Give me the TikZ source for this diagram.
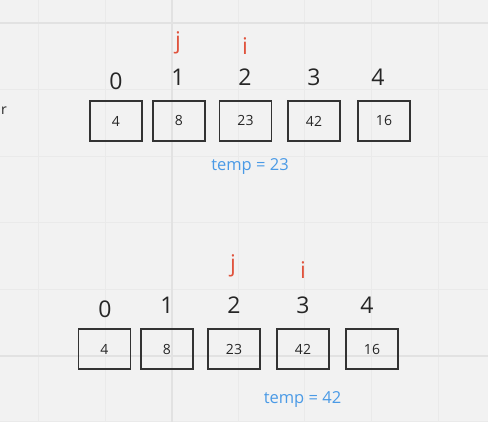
\documentclass[tikz,border=0pt]{standalone}
\usepackage{fontspec}
\setmainfont{Open Sans}
\definecolor{bg}{HTML}{F2F2F2}
\definecolor{gridminor}{HTML}{EAEAEA}
\definecolor{gridmajor}{HTML}{E2E2E2}
\definecolor{ptr}{HTML}{E0533D}
\definecolor{tmp}{HTML}{4A9AE6}
\definecolor{boxline}{HTML}{333333}
\begin{document}
\begin{tikzpicture}[x=1pt,y=-1pt,
  cell/.style={draw=boxline,line width=1.3pt,minimum width=52pt,minimum height=40pt,inner sep=0pt,font=\fontsize{14}{16}\selectfont,text=black!85},
  idx/.style={font=\fontsize{23}{25}\selectfont,text=black!85,inner sep=0pt},
  pointer/.style={font=\fontsize{23}{25}\selectfont,text=ptr,inner sep=0pt},
  tempnote/.style={font=\fontsize{16.5}{18}\selectfont,text=tmp,inner sep=0pt}]
\useasboundingbox (0,0) rectangle (488,422);
\clip (0,0) rectangle (488,422);
\fill[bg] (0,0) rectangle (488,422);
% grid
\foreach \gx in {38.5,105.1,238.3,304.9,371.5,438.1}
  \draw[gridminor,line width=1.1pt] (\gx,0) -- (\gx,422);
\foreach \gy in {89.6,156.2,222.8,289.4,422}
  \draw[gridminor,line width=1.1pt] (0,\gy) -- (488,\gy);
\draw[gridmajor,line width=2pt] (171.7,0) -- (171.7,422);
\draw[gridmajor,line width=2pt] (0,23) -- (488,23);
\draw[gridmajor,line width=2pt] (0,356) -- (488,356);
% partial label at left
\node[anchor=base west,font=\fontsize{14}{16}\selectfont,text=black!85,inner sep=0pt] (lbl) at (1,115) {r};
% top row
\node[cell] (a0) at (116,121) {4};
\node[cell] (a1) at (179,121) {8};
\node[cell] (a2) at (245.5,121) {23};
\node[cell] (a3) at (314,121) {42};
\node[cell] (a4) at (384,121) {16};
\node[idx] (ia0) at (116,81) {0};
\node[idx] (ia1) at (178,77) {1};
\node[idx] (ia2) at (245,77) {2};
\node[idx] (ia3) at (314,77) {3};
\node[idx] (ia4) at (378,77) {4};
\node[pointer] (ja) at (178,43) {j};
\node[pointer] (ia) at (245,46) {i};
\node[tempnote] (ta) at (250,167) {temp = 23};
% bottom row
\node[cell] (b0) at (104.5,349) {4};
\node[cell] (b1) at (167,349) {8};
\node[cell] (b2) at (234,349) {23};
\node[cell] (b3) at (303,349) {42};
\node[cell] (b4) at (372,349) {16};
\node[idx] (ib0) at (105,309) {0};
\node[idx] (ib1) at (167,305) {1};
\node[idx] (ib2) at (234,305) {2};
\node[idx] (ib3) at (303,305) {3};
\node[idx] (ib4) at (367,305) {4};
\node[pointer] (jb) at (233,266) {j};
\node[pointer] (ib) at (303,270) {i};
\node[tempnote] (tb) at (302.5,400) {temp = 42};
\end{tikzpicture}
\end{document}
